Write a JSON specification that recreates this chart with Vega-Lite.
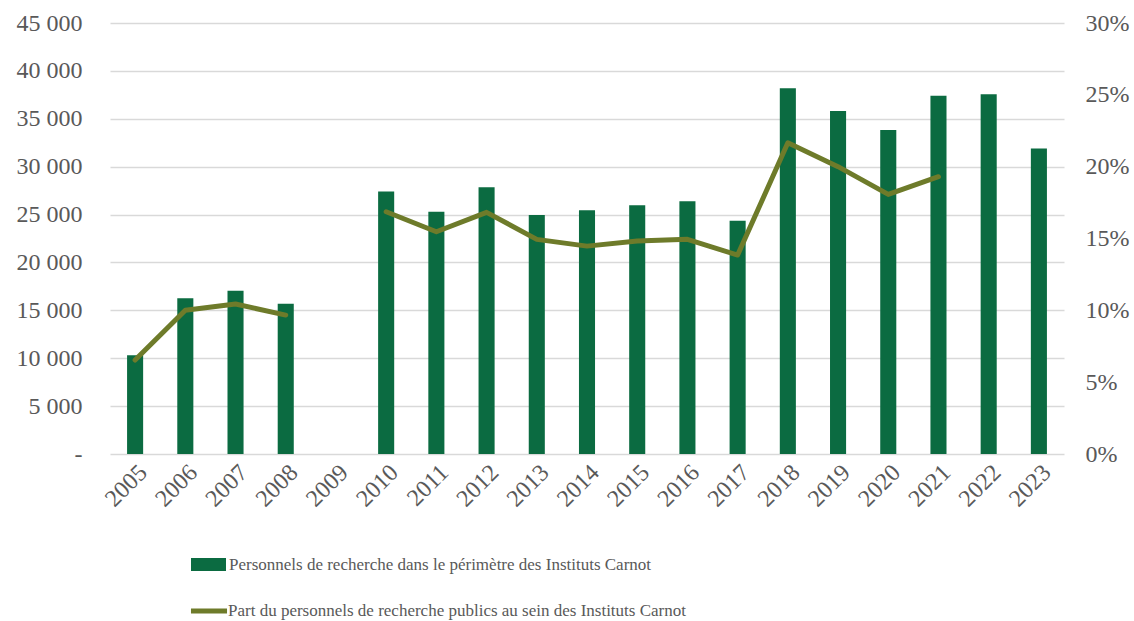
{
  "$schema": "https://vega.github.io/schema/vega-lite/v6.json",
  "width": 954,
  "height": 431,
  "autosize": {"type": "none"},
  "padding": {"left": 110, "top": 23, "right": 70, "bottom": 167},
  "background": "white",
  "config": {
    "view": {"stroke": null},
    "font": "Liberation Serif"
  },
  "data": {
    "values": [
      {"year": "2005", "staff": 10300, "pct": 0.0654},
      {"year": "2006", "staff": 16250, "pct": 0.100},
      {"year": "2007", "staff": 17050, "pct": 0.1044},
      {"year": "2008", "staff": 15700, "pct": 0.0967},
      {"year": "2009", "staff": null, "pct": null},
      {"year": "2010", "staff": 27400, "pct": 0.1686},
      {"year": "2011", "staff": 25300, "pct": 0.1547},
      {"year": "2012", "staff": 27850, "pct": 0.1682},
      {"year": "2013", "staff": 24950, "pct": 0.1494},
      {"year": "2014", "staff": 25450, "pct": 0.1447},
      {"year": "2015", "staff": 25970, "pct": 0.1482},
      {"year": "2016", "staff": 26380, "pct": 0.1494},
      {"year": "2017", "staff": 24360, "pct": 0.1385},
      {"year": "2018", "staff": 38200, "pct": 0.2166},
      {"year": "2019", "staff": 35800, "pct": 0.200},
      {"year": "2020", "staff": 33830, "pct": 0.1807},
      {"year": "2021", "staff": 37400, "pct": 0.193},
      {"year": "2022", "staff": 37550, "pct": null},
      {"year": "2023", "staff": 31900, "pct": null}
    ]
  },
  "encoding": {
    "x": {
      "field": "year",
      "type": "nominal",
      "sort": null,
      "scale": {"domain": ["2005","2006","2007","2008","2009","2010","2011","2012","2013","2014","2015","2016","2017","2018","2019","2020","2021","2022","2023"], "paddingInner": 0.68, "paddingOuter": 0.34},
      "axis": {
        "title": null,
        "labelAngle": -45,
        "labelFontSize": 24,
        "labelColor": "#595959",
        "labelPadding": 6,
        "domain": false,
        "ticks": false,
        "grid": false
      }
    }
  },
  "layer": [
    {
      "mark": {"type": "bar", "invalid": "filter"},
      "encoding": {
        "y": {
          "field": "staff",
          "type": "quantitative",
          "scale": {"domain": [0, 45000], "nice": false},
          "axis": {
            "title": null,
            "values": [0, 5000, 10000, 15000, 20000, 25000, 30000, 35000, 40000, 45000],
            "labelExpr": "datum.value == 0 ? '-' : replace(format(datum.value, ','), ',', ' ')",
            "labelFontSize": 24,
            "labelColor": "#595959",
            "labelPadding": 28,
            "domain": false,
            "ticks": false,
            "grid": true,
            "gridColor": "#d9d9d9",
            "gridWidth": 1.5
          }
        },
        "fill": {
          "datum": "Personnels de recherche dans le périmètre des Instituts Carnot",
          "scale": {"range": ["#0b6b41"]},
          "legend": {
            "title": null,
            "orient": "none",
            "legendX": 81,
            "legendY": 524,
            "padding": 0,
            "symbolType": "M-1,-0.37H1V0.37H-1Z",
            "symbolSize": 1225,
            "symbolStrokeWidth": 0,
            "symbolOpacity": 1,
            "labelFontSize": 17,
            "labelColor": "#595959",
            "labelOffset": 3,
            "labelLimit": 800
          }
        }
      }
    },
    {
      "mark": {"type": "line", "strokeWidth": 5, "invalid": "break-paths-show-domains", "strokeCap": "round", "strokeJoin": "round"},
      "encoding": {
        "y": {
          "field": "pct",
          "type": "quantitative",
          "scale": {"domain": [0, 0.3], "nice": false},
          "axis": {
            "title": null,
            "orient": "right",
            "values": [0, 0.05, 0.1, 0.15, 0.2, 0.25, 0.3],
            "format": ".0%",
            "labelFontSize": 24,
            "labelColor": "#595959",
            "labelPadding": 21,
            "domain": false,
            "ticks": false,
            "grid": false
          }
        },
        "stroke": {
          "datum": "Part du personnels de recherche publics au sein des Instituts Carnot",
          "scale": {"range": ["#6e7b2a"]},
          "legend": {
            "title": null,
            "orient": "none",
            "legendX": 78,
            "legendY": 567,
            "padding": 0,
            "symbolType": "stroke",
            "symbolSize": 1300,
            "symbolStrokeWidth": 5,
            "labelFontSize": 17,
            "labelColor": "#595959",
            "labelOffset": -2,
            "labelLimit": 800
          }
        }
      }
    }
  ],
  "resolve": {"scale": {"y": "independent"}}
}
